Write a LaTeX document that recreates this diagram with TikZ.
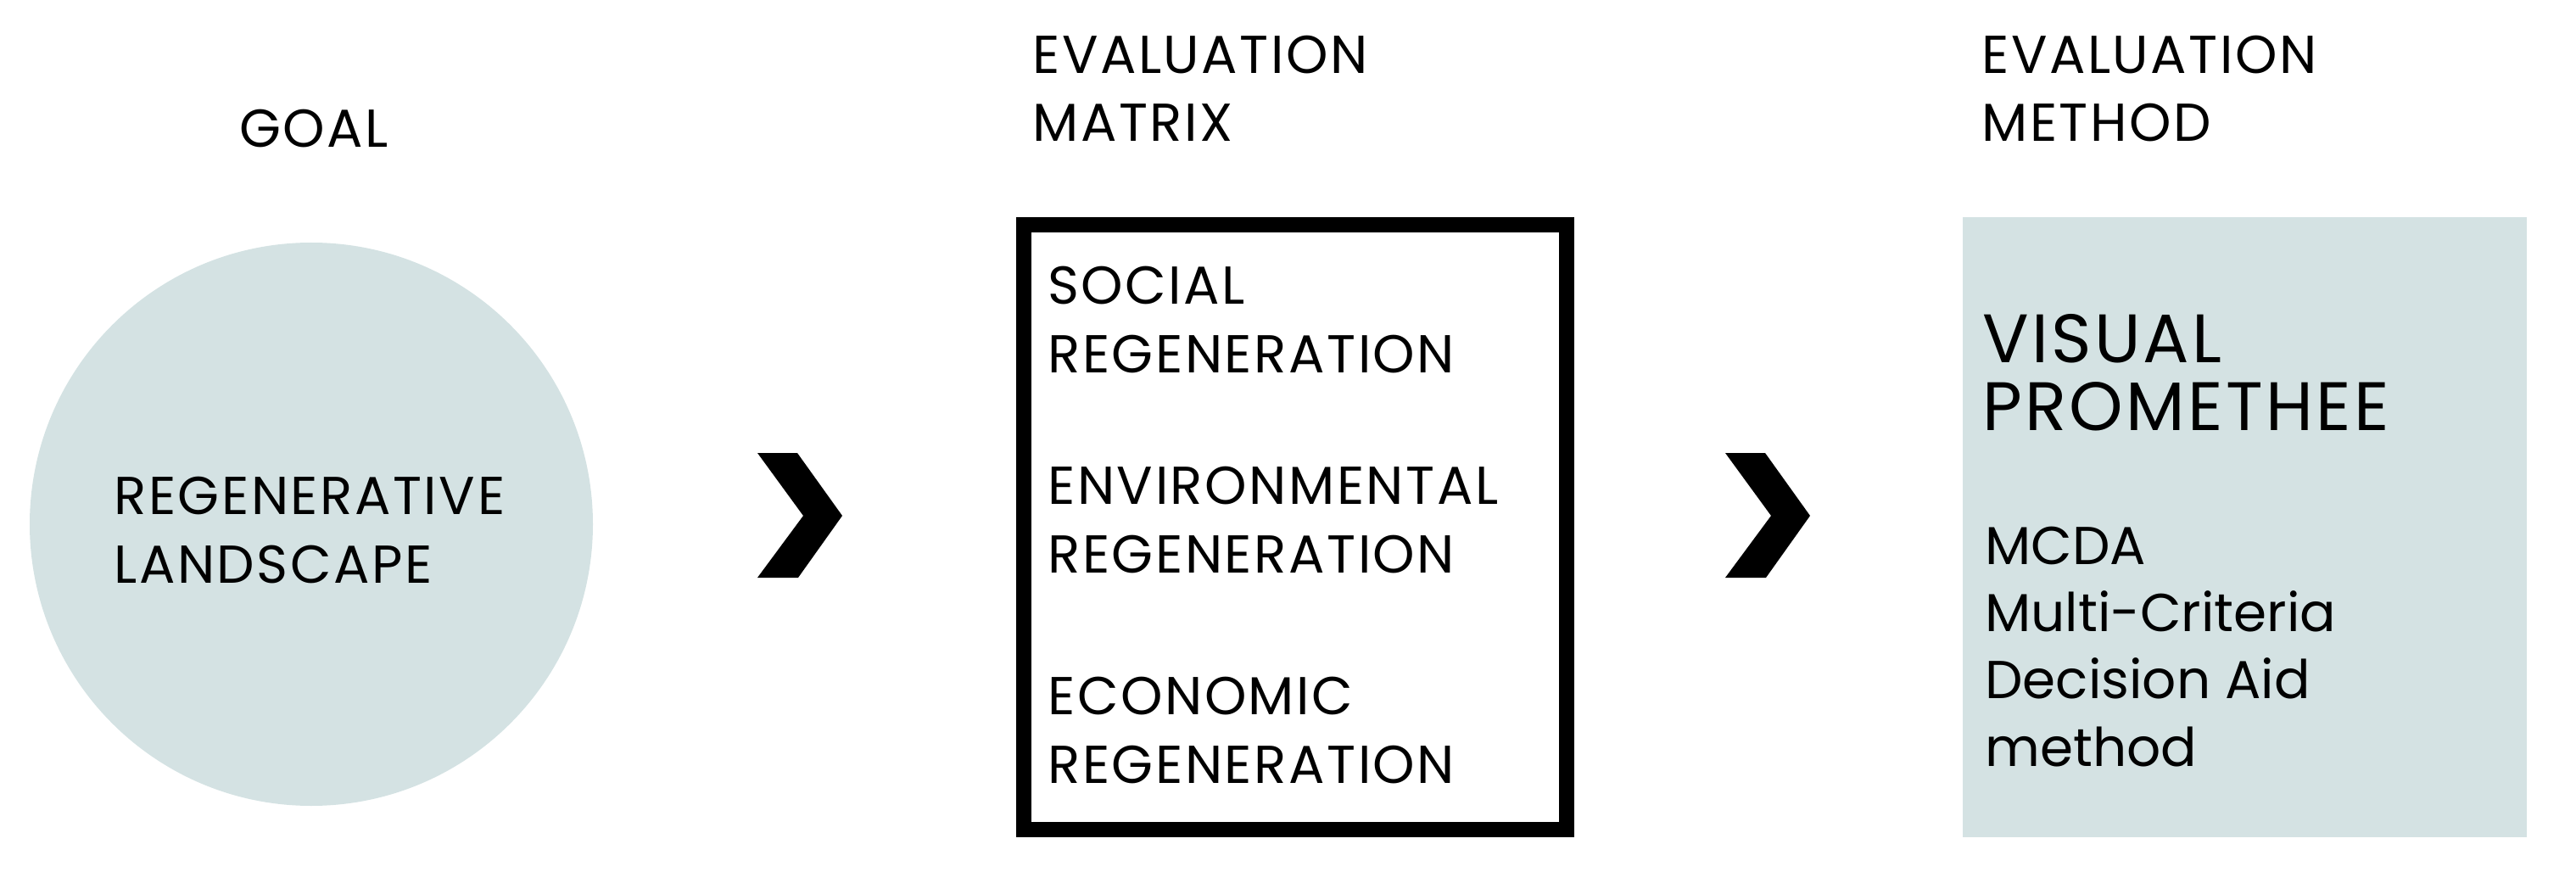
\documentclass[tikz,border=0pt]{standalone}
\usepackage{fontspec}
\setmainfont{Poppins}
\newfontfamily\capsfont{Poppins}[LetterSpace=4]
\usepackage{tikz}
\usetikzlibrary{shapes}
\usetikzlibrary{positioning}
\definecolor{paleblue}{RGB}{212,226,227}

\begin{document}
\begin{tikzpicture}[thick,
		txt/.style={font=\capsfont\fontsize{17.9pt}{22.8pt}\selectfont, align=left, anchor=base west, inner sep=0pt},
		bigtxt/.style={font=\capsfont\fontsize{23pt}{22.5pt}\selectfont, align=left, anchor=base west, inner sep=0pt}]
	\useasboundingbox (0, 0) rectangle (30.37, 10.27);

	% goal
	\node[txt, anchor=base] (goal) at (3.70, 8.53) {GOAL};
	\node[circle, fill=paleblue, minimum size=6.64cm, inner sep=0pt] (goalcircle) at (3.67, 4.09) {};
	\node[txt] (landscape) at (1.33, 3.40) {REGENERATIVE\\LANDSCAPE};

	% evaluation matrix
	\node[txt] (matrixhead) at (12.16, 8.60) {EVALUATION\\MATRIX};
	\draw[line width=0.18cm] (12.07, 0.49) rectangle (18.47, 7.62);
	\node[txt] (social) at (12.34, 5.88) {SOCIAL\\REGENERATION};
	\node[txt] (environmental) at (12.34, 3.52) {ENVIRONMENTAL\\REGENERATION};
	\node[txt] (economic) at (12.34, 1.04) {ECONOMIC\\REGENERATION};

	% evaluation method
	\node[txt] (methodhead) at (23.35, 8.60) {EVALUATION\\METHOD};
	\fill[paleblue] (23.14, 0.40) rectangle (29.79, 7.71);
	\node[bigtxt] (visual) at (23.36, 5.20) {VISUAL\\PROMETHEE};
	\node[txt, font=\fontsize{17.9pt}{22.5pt}\selectfont] (mcda) at (23.39, 1.24) {MCDA\\Multi-Criteria\\Decision Aid\\method};

	% chevrons
	\foreach \dx in {0, 11.41}
		\fill[shift={(\dx, 0)}] (8.93, 4.93) -- (9.40, 4.93) -- (9.93, 4.19) -- (9.41, 3.46) -- (8.93, 3.46) -- (9.47, 4.19) -- cycle;
\end{tikzpicture}
\end{document}
